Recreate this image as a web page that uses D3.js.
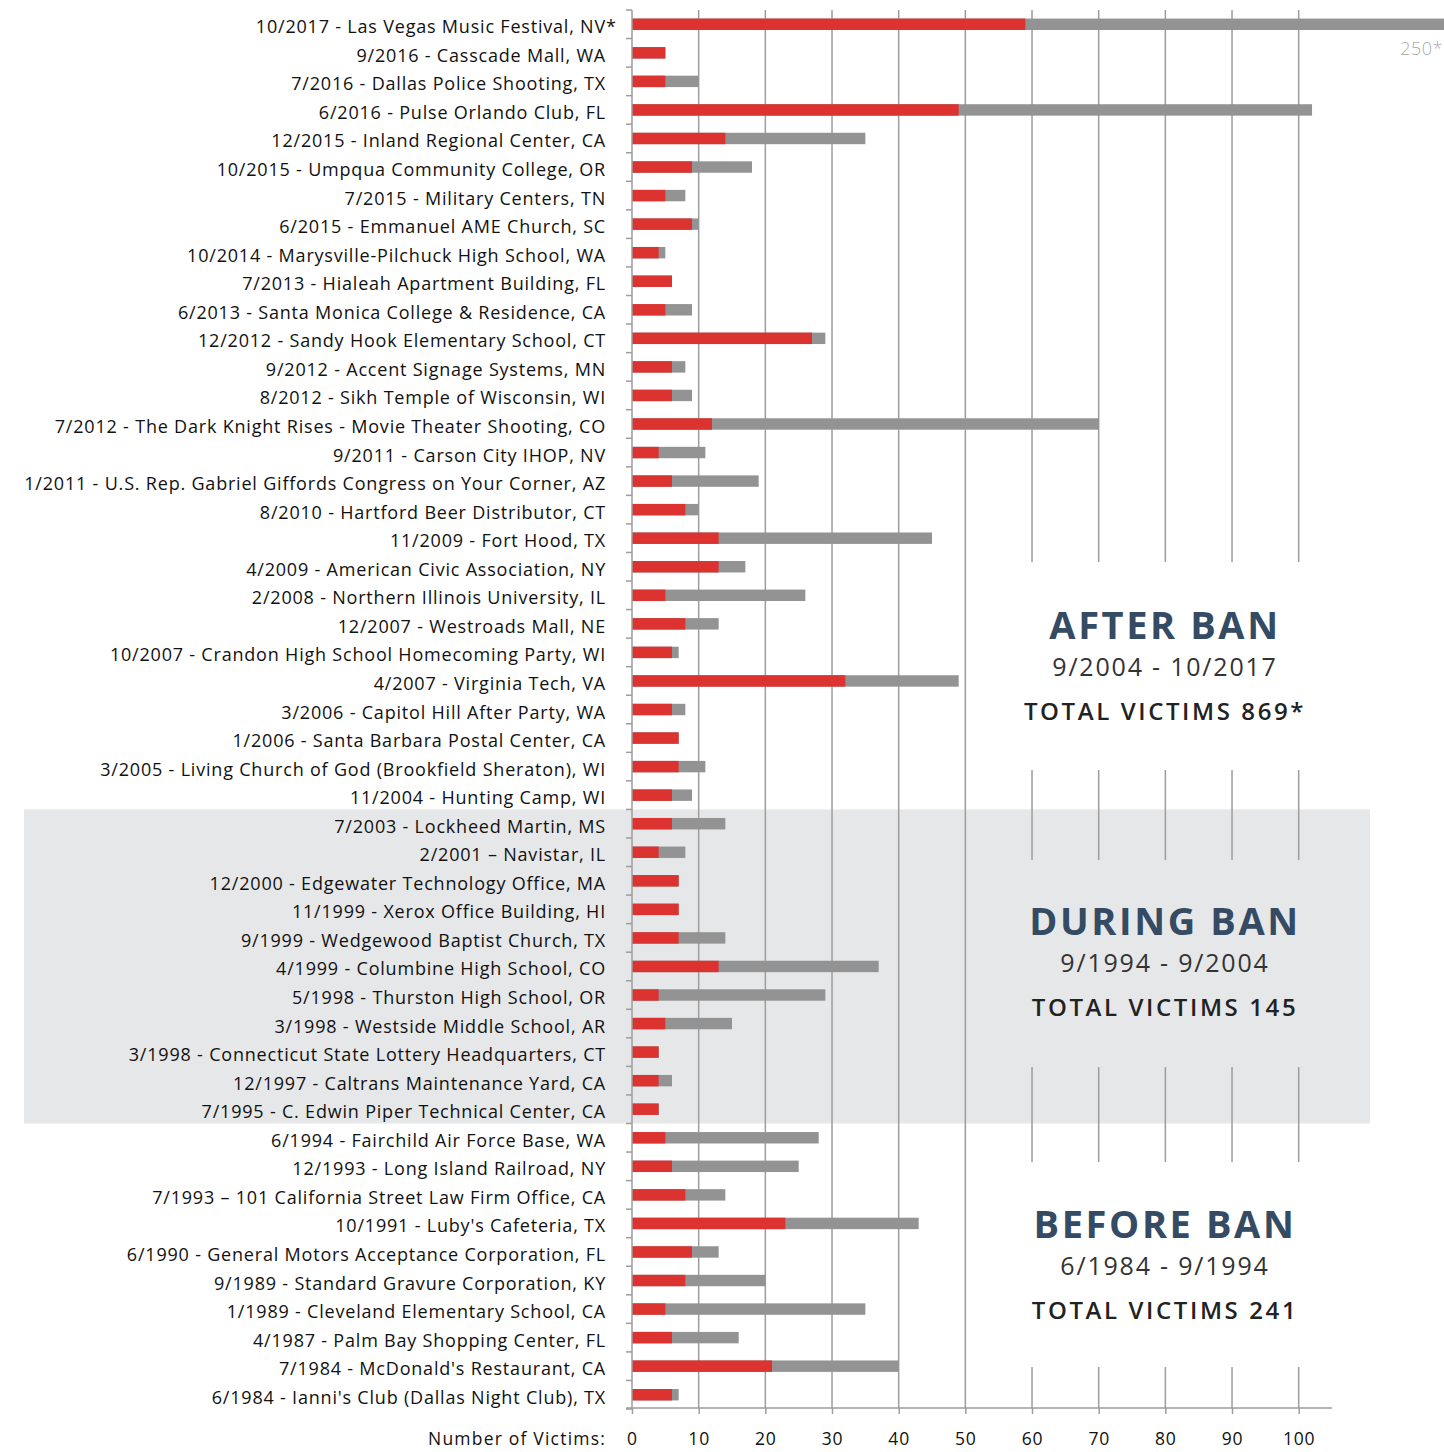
<!DOCTYPE html>
<html>
<head>
<meta charset="utf-8">
<script src="https://cdn.jsdelivr.net/npm/d3@7/dist/d3.min.js"></script>
<style>
  body { margin: 0; background: #fff; }
  svg { display: block; font-family: "Open Sans", "Noto Sans", sans-serif; }
</style>
</head>
<body>
<svg id="chart"></svg>
<script>
// Shootings, newest first
const labels = [
    "10/2017 - Las Vegas Music Festival, NV*",
    "9/2016 - Casscade Mall, WA",
    "7/2016 - Dallas Police Shooting, TX",
    "6/2016 - Pulse Orlando Club, FL",
    "12/2015 - Inland Regional Center, CA",
    "10/2015 - Umpqua Community College, OR",
    "7/2015 - Military Centers, TN",
    "6/2015 - Emmanuel AME Church, SC",
    "10/2014 - Marysville-Pilchuck High School, WA",
    "7/2013 - Hialeah Apartment Building, FL",
    "6/2013 - Santa Monica College & Residence, CA",
    "12/2012 - Sandy Hook Elementary School, CT",
    "9/2012 - Accent Signage Systems, MN",
    "8/2012 - Sikh Temple of Wisconsin, WI",
    "7/2012 - The Dark Knight Rises -  Movie Theater Shooting, CO",
    "9/2011 - Carson City IHOP, NV",
    "1/2011 - U.S. Rep. Gabriel Giffords Congress on Your Corner, AZ",
    "8/2010 - Hartford Beer Distributor, CT",
    "11/2009 - Fort Hood, TX",
    "4/2009 - American Civic Association, NY",
    "2/2008 - Northern Illinois University, IL",
    "12/2007 - Westroads Mall, NE",
    "10/2007 - Crandon High School Homecoming Party, WI",
    "4/2007 - Virginia Tech, VA",
    "3/2006 - Capitol Hill After Party, WA",
    "1/2006 - Santa Barbara Postal Center, CA",
    "3/2005 - Living Church of God (Brookfield Sheraton), WI",
    "11/2004 - Hunting Camp, WI",
    "7/2003 - Lockheed Martin, MS",
    "2/2001 \u2013 Navistar, IL",
    "12/2000 - Edgewater Technology Office, MA",
    "11/1999 - Xerox Office Building, HI",
    "9/1999 - Wedgewood Baptist Church, TX",
    "4/1999 - Columbine High School, CO",
    "5/1998 - Thurston High School, OR",
    "3/1998 - Westside Middle School, AR",
    "3/1998 - Connecticut State Lottery Headquarters, CT",
    "12/1997 - Caltrans Maintenance Yard, CA",
    "7/1995 - C. Edwin Piper Technical Center, CA",
    "6/1994 - Fairchild Air Force Base, WA",
    "12/1993 - Long Island Railroad, NY",
    "7/1993 \u2013 101 California Street Law Firm Office, CA",
    "10/1991 - Luby's Cafeteria, TX",
    "6/1990 - General Motors Acceptance Corporation, FL",
    "9/1989 - Standard Gravure Corporation, KY",
    "1/1989 - Cleveland Elementary School, CA",
    "4/1987 - Palm Bay Shopping Center, FL",
    "7/1984 - McDonald's Restaurant, CA",
    "6/1984 - Ianni's Club (Dallas Night Club), TX"
];

// killed (red) and total victims killed + injured (grey)
const killed = [59, 5, 5, 49, 14, 9, 5, 9, 4, 6, 5, 27, 6, 6, 12, 4, 6, 8, 13, 13, 5, 8, 6, 32, 6, 7, 7, 6,
                6, 4, 7, 7, 7, 13, 4, 5, 4, 4, 4,
                5, 6, 8, 23, 9, 8, 5, 6, 21, 6];
const victims = [250, 5, 10, 102, 35, 18, 8, 10, 5, 6, 9, 29, 8, 9, 70, 11, 19, 10, 45, 17, 26, 13, 7, 49, 8, 7, 11, 9,
                 14, 8, 7, 7, 14, 37, 29, 15, 4, 6, 4,
                 28, 25, 14, 43, 13, 20, 35, 16, 40, 7];

// periods
const periodNames = ["AFTER BAN", "DURING BAN", "BEFORE BAN"];
const periodDates = ["9/2004 - 10/2017", "9/1994 - 9/2004", "6/1984 - 9/1994"];
const periodTotals = ["TOTAL VICTIMS 869*", "TOTAL VICTIMS 145", "TOTAL VICTIMS 241"];
const periodRows = [[0, 27], [28, 38], [39, 48]];

const xTicks = [0, 10, 20, 30, 40, 50, 60, 70, 80, 90, 100];

const width = 1444, height = 1452;
const svg = d3.select("#chart")
    .attr("width", width)
    .attr("height", height);

const x = d3.scaleLinear()
    .domain([0, 105])
    .range([632, 632 + 105 * 6.667]);

const y = d3.scaleBand()
    .domain(d3.range(labels.length))
    .range([10, 1409])
    .paddingInner(0.6)
    .paddingOuter(0.3);

const step = y.step();
const rowTop = i => 10 + i * step;

// grey band for the ban period
svg.append("rect")
    .attr("x", 24)
    .attr("y", rowTop(periodRows[1][0]))
    .attr("width", 1370 - 24)
    .attr("height", rowTop(periodRows[1][1] + 1) - rowTop(periodRows[1][0]))
    .attr("fill", "#e6e7e8");

// text block positions (baseline of headline)
const panelY = [639, 935, 1238];

// gridlines, broken around the text blocks on the right
const axisBottom = 1408;
xTicks.filter(t => t > 0).forEach(t => {
    let segs = [[10, axisBottom]];
    if (t >= 60) {
        segs = [[10, panelY[0] - 77], [panelY[0] + 131, panelY[1] - 75],
                [panelY[1] + 132, panelY[2] - 76], [panelY[2] + 129, axisBottom]];
    }
    segs.forEach(s => {
        svg.append("line")
            .attr("x1", x(t)).attr("x2", x(t))
            .attr("y1", s[0]).attr("y2", s[1])
            .attr("stroke", "#9d9d9d")
            .attr("stroke-width", 1.5);
    });
});

// bars: grey total behind, red killed in front
const bars = svg.append("g");

bars.selectAll(".total")
    .data(victims)
    .enter().append("rect")
    .attr("class", "total")
    .attr("x", x(0))
    .attr("y", (d, i) => y(i))
    .attr("width", d => Math.min(x(d), width) - x(0))
    .attr("height", y.bandwidth())
    .attr("fill", "#939393");

bars.selectAll(".killed")
    .data(killed)
    .enter().append("rect")
    .attr("class", "killed")
    .attr("x", x(0))
    .attr("y", (d, i) => y(i))
    .attr("width", d => x(d) - x(0))
    .attr("height", y.bandwidth())
    .attr("fill", "#dc3330");

// capped value note for Las Vegas
svg.append("text")
    .attr("x", 1443)
    .attr("y", 55)
    .attr("text-anchor", "end")
    .style("font-size", "18px")
    .style("font-weight", 300)
    .style("letter-spacing", "0.5px")
    .attr("fill", "#aaaaaa")
    .text(victims[0] + "*");

// left axis line and row ticks
svg.append("line")
    .attr("x1", x(0)).attr("x2", x(0))
    .attr("y1", 10).attr("y2", axisBottom)
    .attr("stroke", "#9d9d9d").attr("stroke-width", 1.5);

svg.selectAll(".rowtick")
    .data(d3.range(labels.length + 1))
    .enter().append("line")
    .attr("x1", x(0) - 6).attr("x2", x(0))
    .attr("y1", d => rowTop(d)).attr("y2", d => rowTop(d))
    .attr("stroke", "#9d9d9d").attr("stroke-width", 1.5);

// row labels
const labelG = svg.append("g")
    .style("font-size", "18px")
    .style("letter-spacing", "0.8px")
    .attr("fill", "#111");
labels.forEach((lab, i) => {
    const star = lab.endsWith("*");
    const ly = y(i) + y.bandwidth() / 2 + 9;
    labelG.append("text")
        .attr("x", 606)
        .attr("y", ly)
        .attr("text-anchor", "end")
        .text(star ? lab.slice(0, -1) : lab);
    if (star) {
        labelG.append("text")
            .attr("x", 606)
            .attr("y", ly)
            .text("*");
    }
});

// bottom axis
const xAxis = svg.append("g")
    .attr("transform", "translate(0," + axisBottom + ")")
    .call(d3.axisBottom(x).tickValues(xTicks).tickSize(6).tickSizeOuter(0).tickPadding(19));
xAxis.select(".domain").attr("stroke", "#9d9d9d").attr("stroke-width", 1.5)
    .attr("d", "M626,0H1332");
xAxis.selectAll(".tick line").attr("stroke", "#9d9d9d").attr("stroke-width", 1.5);
xAxis.selectAll(".tick text")
    .style("font-size", "17.5px")
    .style("letter-spacing", "0.8px")
    .style("font-family", "'Open Sans', sans-serif")
    .attr("fill", "#111");

svg.append("text")
    .attr("x", 606)
    .attr("y", 1445)
    .attr("text-anchor", "end")
    .style("font-size", "17.5px")
    .style("letter-spacing", "1.2px")
    .attr("fill", "#111")
    .text("Number of Victims:");

// period text blocks
periodNames.forEach((name, i) => {
    const cx = 1165, by = panelY[i];
    svg.append("text")
        .attr("x", cx).attr("y", by)
        .attr("text-anchor", "middle")
        .style("font-size", "38px")
        .style("font-weight", 700)
        .style("letter-spacing", "2.6px")
        .attr("fill", "#354a63")
        .text(name);
    svg.append("text")
        .attr("x", cx).attr("y", by + 37)
        .attr("text-anchor", "middle")
        .style("font-size", "25px")
        .style("letter-spacing", "1.8px")
        .attr("fill", "#333")
        .text(periodDates[i]);
    svg.append("text")
        .attr("x", cx).attr("y", by + 81)
        .attr("text-anchor", "middle")
        .style("font-size", "24px")
        .style("font-weight", 600)
        .style("letter-spacing", "2.6px")
        .attr("fill", "#222")
        .text(periodTotals[i]);
});
</script>
</body>
</html>
